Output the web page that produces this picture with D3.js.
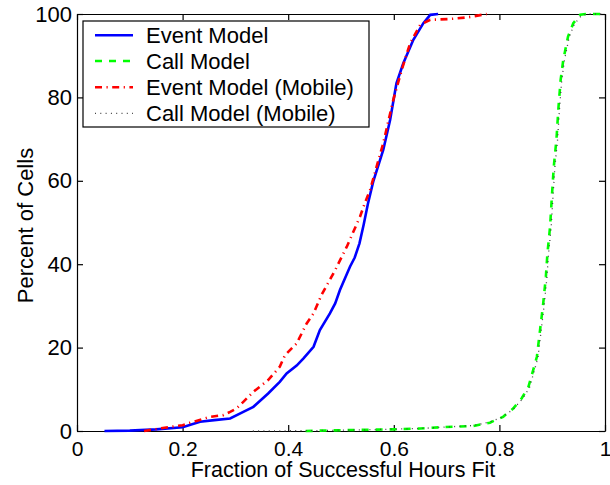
<!DOCTYPE html>
<html lang="en">
<head>
  <meta charset="UTF-8">
  <title>Fraction of Successful Hours Fit</title>
  <script src="https://d3js.org/d3.v7.min.js"></script>
  <style>
    body {
      margin: 0;
      padding: 0;
      background-color: #fff;
    }
    svg text {
      font-family: 'Liberation Sans', Arial, Helvetica, sans-serif;
      fill: #000;
    }
  </style>
</head>
<body>
<div id="chart"></div>

<script>
// Data (x = fraction, y = percent of cells)
const eventX = [0.052, 0.10, 0.15, 0.20, 0.233, 0.26, 0.29, 0.315, 0.334, 0.362, 0.384, 0.397, 0.416, 0.429, 0.448, 0.460, 0.479, 0.489, 0.498, 0.517, 0.526, 0.535, 0.543, 0.551, 0.561, 0.580, 0.593, 0.605, 0.618, 0.637, 0.656, 0.669, 0.684];
const eventY = [0, 0.1, 0.4, 0.9, 2.2, 2.6, 3.0, 4.6, 5.8, 9.0, 11.8, 13.8, 15.7, 17.4, 20.2, 24.2, 28.2, 30.6, 33.8, 39.4, 41.6, 45.0, 49.5, 54.5, 59.8, 67.4, 74.6, 83.4, 88.2, 93.8, 97.8, 99.8, 100];

const callX = [0.433, 0.5, 0.6, 0.65, 0.688, 0.751, 0.782, 0.807, 0.826, 0.842, 0.855, 0.864, 0.871, 0.877, 0.883, 0.888, 0.891, 0.896, 0.899, 0.903, 0.908, 0.912, 0.916, 0.921, 0.930, 0.940, 0.953, 0.965, 1.0];
const callY = [0, 0.2, 0.4, 0.6, 0.9, 1.2, 2.0, 3.4, 5.4, 7.8, 10.6, 14.6, 17.8, 24.2, 30.6, 37.0, 42.6, 49.0, 55.4, 63.4, 69.8, 77.8, 84.2, 89.0, 94.6, 97.8, 99.8, 100, 100];

const eventMobX = [0.127, 0.157, 0.20, 0.22, 0.252, 0.277, 0.29, 0.302, 0.315, 0.334, 0.362, 0.384, 0.394, 0.416, 0.435, 0.448, 0.463, 0.476, 0.489, 0.511, 0.536, 0.545, 0.555, 0.580, 0.599, 0.615, 0.631, 0.650, 0.669, 0.706, 0.74, 0.776];
const eventMobY = [0, 0.6, 1.4, 2.2, 3.4, 3.8, 4.6, 5.4, 7.0, 9.4, 12.2, 15.4, 18.2, 21.0, 25.8, 28.2, 32.6, 35.6, 38.6, 44.2, 51.4, 54.6, 57.8, 69.0, 79.4, 86.6, 93.0, 97.4, 98.6, 98.8, 99.2, 100];

const callMobX = [0.333, 0.45, 0.55, 0.65, 0.69, 0.75, 0.78, 0.805, 0.826, 0.843, 0.857, 0.866, 0.873, 0.879, 0.885, 0.890, 0.893, 0.898, 0.901, 0.905, 0.910, 0.914, 0.918, 0.923, 0.932, 0.942, 0.955, 0.967, 1.0];
const callMobY = [0, 0.1, 0.3, 0.6, 0.9, 1.3, 2.1, 3.3, 5.2, 7.6, 10.4, 14.4, 17.6, 24.0, 30.4, 36.8, 42.4, 48.8, 55.2, 63.2, 69.6, 77.6, 84.0, 88.8, 94.4, 97.6, 99.6, 100, 100];

const xTicks = [0, 0.2, 0.4, 0.6, 0.8, 1];
const xTickLabels = ["0", "0.2", "0.4", "0.6", "0.8", "1"];
const yTicks = [0, 20, 40, 60, 80, 100];

const seriesNames = ["Event Model", "Call Model", "Event Model (Mobile)", "Call Model (Mobile)"];

// Layout
const width = 610, height = 485;
const margin = {top: 14, right: 5, bottom: 54, left: 77};
const plotW = width - margin.left - margin.right;
const plotH = height - margin.top - margin.bottom;

const svg = d3.select("#chart").append("svg")
    .attr("width", width)
    .attr("height", height);

const x = d3.scaleLinear().domain([0, 1]).range([margin.left, margin.left + plotW]);
const y = d3.scaleLinear().domain([0, 100]).range([margin.top + plotH, margin.top]);

// Axes with inward ticks on all four sides (box style)
const tickLen = 6;
svg.append("g")
    .attr("transform", `translate(0,${margin.top + plotH})`)
    .call(d3.axisBottom(x).tickValues(xTicks).tickFormat((d, i) => xTickLabels[i])
      .tickSizeInner(-tickLen).tickSizeOuter(0).tickPadding(10))
    .call(g => g.selectAll("text").attr("font-size", "21px"));
svg.append("g")
    .attr("transform", `translate(0,${margin.top})`)
    .call(d3.axisTop(x).tickValues(xTicks).tickFormat("").tickSizeInner(-tickLen).tickSizeOuter(0));
svg.append("g")
    .attr("transform", `translate(${margin.left},0)`)
    .call(d3.axisLeft(y).tickValues(yTicks).tickSizeInner(-tickLen).tickSizeOuter(0).tickPadding(5))
    .call(g => g.selectAll("text").attr("font-size", "22px"));
svg.append("g")
    .attr("transform", `translate(${margin.left + plotW},0)`)
    .call(d3.axisRight(y).tickValues(yTicks).tickFormat("").tickSizeInner(-tickLen).tickSizeOuter(0));

svg.selectAll(".domain").attr("stroke", "#000").attr("stroke-width", 1.2);
svg.selectAll(".tick line").attr("stroke", "#000").attr("stroke-width", 1.2);

// Series
const styles = [
  {color: "#0000ff", width: 2.6, dash: null},
  {color: "#00ff00", width: 2.6, dash: "7 7"},
  {color: "#ff0000", width: 2.6, dash: "7 4.5 1.2 4.5"},
  {color: "#444", width: 1.3, dash: "1 4.3"}
];
const series = [
  d3.zip(eventX, eventY),
  d3.zip(callX, callY),
  d3.zip(eventMobX, eventMobY),
  d3.zip(callMobX, callMobY)
];

const line = d3.line().x(d => x(d[0])).y(d => y(d[1]));

series.forEach((s, i) => {
  svg.append("path")
      .datum(s)
      .attr("fill", "none")
      .attr("stroke", styles[i].color)
      .attr("stroke-width", styles[i].width)
      .attr("stroke-dasharray", styles[i].dash)
      .attr("d", line);
});

// Legend
const legend = svg.append("g").attr("transform", "translate(83,21)");
legend.append("rect")
    .attr("width", 286).attr("height", 106)
    .attr("fill", "#fff").attr("stroke", "#000").attr("stroke-width", 1.2);

const rowY = [14.3, 40, 66.3, 92.3];
seriesNames.forEach((name, i) => {
  legend.append("line")
      .attr("x1", 12).attr("x2", 50)
      .attr("y1", rowY[i]).attr("y2", rowY[i])
      .attr("stroke", styles[i].color)
      .attr("stroke-width", styles[i].width)
      .attr("stroke-dasharray", styles[i].dash);
  legend.append("text")
      .attr("x", 63).attr("y", rowY[i])
      .attr("dy", "0.36em")
      .attr("font-size", "22px")
      .text(name);
});

// Axis titles
svg.append("text")
    .attr("x", margin.left + plotW / 2 + 2)
    .attr("y", 477)
    .attr("text-anchor", "middle")
    .attr("font-size", "21.5px")
    .text("Fraction of Successful Hours Fit");

svg.append("text")
    .attr("transform", `translate(33,${margin.top + plotH / 2 + 3}) rotate(-90)`)
    .attr("text-anchor", "middle")
    .attr("font-size", "22px")
    .text("Percent of Cells");
</script>
</body>
</html>
